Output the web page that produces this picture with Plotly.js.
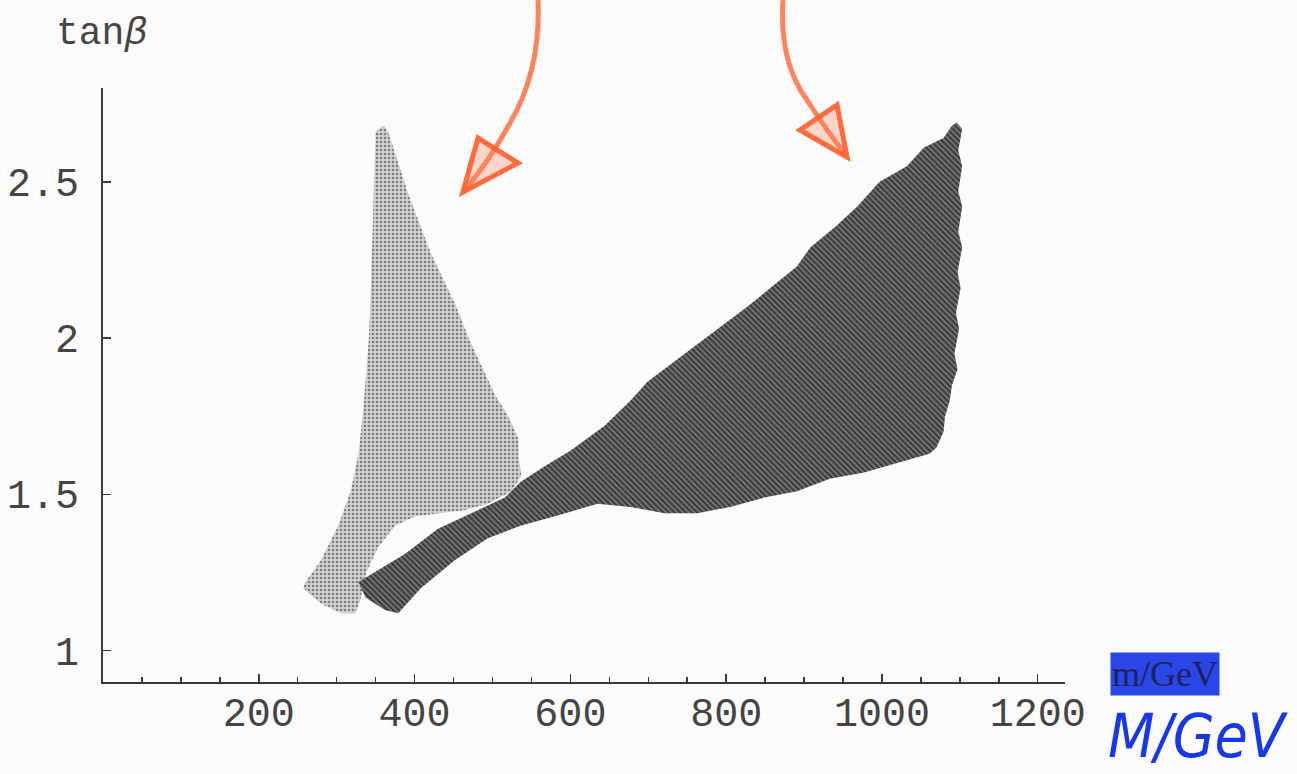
<!DOCTYPE html>
<html>
<head>
<meta charset="utf-8">
<script src="https://cdn.plot.ly/plotly-3.0.1.min.js"></script>
<style>
  html, body { margin: 0; padding: 0; background: #fbfbfb; }
  #chart { width: 1297px; height: 774px; }
</style>
</head>
<body>
<div id="chart"></div>
<script>
// ---- data (M in GeV, tan beta) ----
const lightM = [360, 366, 392, 421, 452, 471, 490, 503, 520, 533, 534, 537, 524, 494, 465, 430, 401, 375, 353, 338, 330, 324, 306, 280, 257, 260, 280, 302, 318, 328, 334, 338, 341, 343, 347, 350];
const lightTan = [2.68, 2.66, 2.46, 2.27, 2.11, 1.99, 1.89, 1.82, 1.75, 1.68, 1.61, 1.56, 1.51, 1.47, 1.45, 1.44, 1.43, 1.40, 1.33, 1.25, 1.16, 1.12, 1.12, 1.15, 1.20, 1.22, 1.29, 1.40, 1.51, 1.63, 1.77, 1.89, 1.99, 2.09, 2.41, 2.66];

const darkM = [328, 388, 430, 472, 516, 536, 567, 600, 644, 677, 699, 763, 827, 891, 908, 942, 968, 997, 1032, 1054, 1079, 1090, 1096,
               1103, 1098, 1103, 1098, 1103, 1098, 1103, 1097, 1101, 1095, 1099, 1093, 1097, 1090, 1087, 1081, 1079, 1070, 1061,
               1019, 977, 933, 891, 849, 805, 763, 721, 677, 635, 580, 536, 494, 452, 408, 379, 362, 337];
const darkTan = [1.22, 1.31, 1.39, 1.44, 1.49, 1.54, 1.59, 1.64, 1.72, 1.80, 1.86, 1.98, 2.10, 2.23, 2.29, 2.36, 2.42, 2.50, 2.55, 2.61, 2.64, 2.68, 2.69,
                 2.67, 2.60, 2.55, 2.47, 2.42, 2.34, 2.29, 2.21, 2.16, 2.08, 2.03, 1.95, 1.90, 1.85, 1.80, 1.75, 1.70, 1.65, 1.63,
                 1.60, 1.57, 1.55, 1.51, 1.49, 1.46, 1.44, 1.44, 1.46, 1.47, 1.43, 1.40, 1.36, 1.29, 1.20, 1.12, 1.13, 1.17];

const xTickVals = [200, 400, 600, 800, 1000, 1200];
const xTickText = ['200', '400', '600', '800', '1000', '1200'];
const yTickVals = [1, 1.5, 2, 2.5];
const yTickText = ['1', '1.5', '2', '2.5'];

// ---- layout geometry ----
const W = 1297, H = 774;
const ML = 103, MR = 232, MT = 88, MB = 92;
const PW = W - ML - MR, PH = H - MT - MB;
// pixel -> paper helper for the hand-drawn decorations
function P(px, py) { return ((px - ML) / PW).toFixed(4) + ',' + ((H - MB - py) / PH).toFixed(4); }
function paperX(px) { return (px - ML) / PW; }
function paperY(py) { return (H - MB - py) / PH; }

const mono = 'Liberation Mono, Courier New, monospace';
const axisCol = '#3a3a3a';

const traces = [
  {
    x: lightM, y: lightTan, type: 'scatter', mode: 'lines', fill: 'toself',
    fillcolor: '#c6c6c6',
    fillpattern: { shape: '.', fgcolor: '#7e7e7e', bgcolor: '#d2d2d2', size: 4, solidity: 0.35 },
    line: { width: 0, color: '#c6c6c6' }, hoverinfo: 'skip', showlegend: false
  },
  {
    x: darkM, y: darkTan, type: 'scatter', mode: 'lines', fill: 'toself',
    fillcolor: '#595959',
    fillpattern: { shape: '\\', fgcolor: '#363636', bgcolor: '#767676', size: 4, solidity: 0.5 },
    line: { width: 0, color: '#595959' }, hoverinfo: 'skip', showlegend: false
  }
];

const orange = '#ff6434';
const shapes = [
  { type: 'path', xref: 'paper', yref: 'paper', layer: 'above',
    path: 'M' + P(538, 0) + ' Q' + P(541, 70) + ' ' + P(510, 123) + ' Q' + P(490, 160) + ' ' + P(465, 190),
    line: { color: orange, width: 5 }, opacity: 0.8 },
  { type: 'path', xref: 'paper', yref: 'paper', layer: 'above',
    path: 'M' + P(463, 192) + ' L' + P(478, 138) + ' L' + P(518, 163) + ' Z',
    fillcolor: 'rgba(255,140,100,0.35)',
    line: { color: orange, width: 5 }, opacity: 0.95 },
  { type: 'path', xref: 'paper', yref: 'paper', layer: 'above',
    path: 'M' + P(783, 0) + ' Q' + P(779, 62) + ' ' + P(807, 100) + ' Q' + P(826, 130) + ' ' + P(846, 155),
    line: { color: orange, width: 5 }, opacity: 0.8 },
  { type: 'path', xref: 'paper', yref: 'paper', layer: 'above',
    path: 'M' + P(847, 157) + ' L' + P(837, 105) + ' L' + P(800, 130) + ' Z',
    fillcolor: 'rgba(255,140,100,0.35)',
    line: { color: orange, width: 5 }, opacity: 0.95 }
];

const annotations = [
  { text: 'tan<i>β</i>', xref: 'paper', yref: 'paper', x: paperX(101), y: paperY(33),
    xanchor: 'center', yanchor: 'middle', showarrow: false,
    font: { family: mono, size: 38, color: '#444' } },
  { text: 'm/GeV', xref: 'paper', yref: 'paper', x: paperX(1165), y: paperY(674),
    xanchor: 'center', yanchor: 'middle', showarrow: false,
    bgcolor: '#2b46e6', borderpad: 1,
    font: { family: 'Liberation Serif, serif', size: 36, color: '#1d2160' } },
  { text: '<i>M/GeV</i>', xref: 'paper', yref: 'paper', x: paperX(1198), y: paperY(736),
    xanchor: 'center', yanchor: 'middle', showarrow: false,
    font: { family: 'Liberation Sans Narrow, DejaVu Sans Condensed, sans-serif', size: 60, color: '#1638e8' } }
];

const layout = {
  width: W, height: H,
  margin: { l: ML, r: MR, t: MT, b: MB, pad: 0 },
  paper_bgcolor: '#fbfbfb', plot_bgcolor: '#fbfbfb',
  showlegend: false,
  xaxis: {
    range: [0, 1235], showgrid: false, zeroline: false,
    showline: true, linecolor: axisCol, linewidth: 2,
    ticks: 'inside', ticklen: 8, tickwidth: 1.5, tickcolor: axisCol,
    tickmode: 'array', tickvals: xTickVals, ticktext: xTickText,
    tickfont: { family: mono, size: 40, color: '#444' },
    ticklabelstandoff: -6,
    minor: { tickmode: 'linear', tick0: 0, dtick: 50, ticks: 'inside', ticklen: 5, tickwidth: 1.5, tickcolor: axisCol, showgrid: false },
    fixedrange: true
  },
  yaxis: {
    range: [0.9, 2.8], showgrid: false, zeroline: false,
    showline: true, linecolor: axisCol, linewidth: 2,
    ticks: 'inside', ticklen: 8, tickwidth: 1.5, tickcolor: axisCol,
    tickmode: 'array', tickvals: yTickVals, ticktext: yTickText,
    tickfont: { family: mono, size: 40, color: '#444' },
    ticklabelstandoff: 14,
    fixedrange: true
  },
  shapes: shapes,
  annotations: annotations
};

Plotly.newPlot('chart', traces, layout, { staticPlot: true, displayModeBar: false });
</script>
</body>
</html>
